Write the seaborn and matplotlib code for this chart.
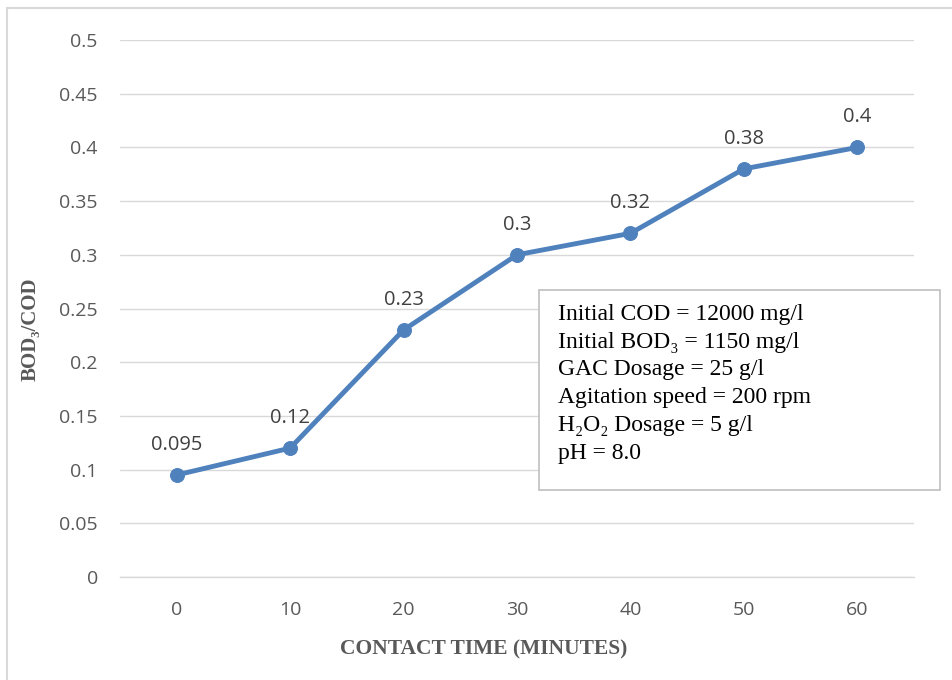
import matplotlib
matplotlib.use("Agg")
import matplotlib.pyplot as plt
import seaborn as sns
import pandas as pd
from matplotlib.patches import Rectangle

contact_time = [0, 10, 20, 30, 40, 50, 60]
bod_cod = [0.095, 0.12, 0.23, 0.3, 0.32, 0.38, 0.4]
value_labels = ["0.095", "0.12", "0.23", "0.3", "0.32", "0.38", "0.4"]
y_ticks = [0, 0.05, 0.1, 0.15, 0.2, 0.25, 0.3, 0.35, 0.4, 0.45, 0.5]
y_tick_labels = ["0", "0.05", "0.1", "0.15", "0.2", "0.25", "0.3", "0.35", "0.4", "0.45", "0.5"]
info_lines = ["Initial COD = 12000 mg/l",
              "Initial BOD\u2083 = 1150 mg/l",
              "GAC Dosage = 25 g/l",
              "Agitation speed = 200 rpm",
              "H\u2082O\u2082 Dosage = 5 g/l",
              "pH = 8.0"]

df = pd.DataFrame({"time": contact_time, "ratio": bod_cod})

sns.set_style("white")
plt.rcParams['font.family'] = ['Open Sans', 'DejaVu Sans']

fig = plt.figure(figsize=(9.53, 6.8), dpi=100)
ax = fig.add_axes([120 / 953, 1 - 577 / 680, 794 / 953, 537 / 680])

blue = "#4F81BD"
sns.lineplot(data=df, x="time", y="ratio", ax=ax, color=blue, linewidth=3.5,
             marker="o", markersize=10, markeredgecolor=blue, zorder=3)

for x, y, lab in zip(contact_time, bod_cod, value_labels):
    ax.annotate(lab, (x, y), xytext=(0, 18), textcoords="offset points",
                ha="center", va="baseline", fontsize=14.5, color="#404040")

ax.set_xlim(-5, 65)
ax.set_ylim(0, 0.5)
ax.set_xticks(contact_time)
ax.set_xticklabels([str(t) for t in contact_time])
ax.set_yticks(y_ticks)
ax.set_yticklabels(y_tick_labels)
ax.tick_params(axis="both", length=0, labelsize=14, labelcolor="#595959")
ax.tick_params(axis="y", pad=16)
ax.tick_params(axis="x", pad=17)
ax.yaxis.grid(True, color="#D9D9D9", linewidth=1)
ax.xaxis.grid(False)
for side in ["top", "right", "left"]:
    ax.spines[side].set_visible(False)
ax.spines["bottom"].set_color("#D9D9D9")
ax.spines["bottom"].set_linewidth(1)

serif = ['Liberation Serif', 'DejaVu Serif']
ax.set_xlabel("CONTACT TIME (MINUTES)", family=serif, fontweight="bold",
              fontsize=15.5, color="#595959")
ax.xaxis.set_label_coords(0.458, -0.117)
ax.set_ylabel("BOD\u2083/COD", family=serif, fontweight="bold",
              fontsize=15, color="#595959")
ax.yaxis.set_label_coords(-0.1, 0.462)

# info box
box = Rectangle((539 / 953, 1 - 490 / 680), 401 / 953, 200 / 680,
                transform=fig.transFigure, facecolor="white",
                edgecolor="#BFBFBF", linewidth=1.2, zorder=5)
fig.patches.append(box)
fig.text(558 / 953, 1 - 304 / 680, "\n".join(info_lines), family=serif,
         fontsize=17, color="black", va="top", ha="left",
         linespacing=1.42, zorder=6)

# outer chart border
fig.patches.append(Rectangle((7 / 953, -0.02), 1.05, 1 - 8 / 680 + 0.02,
                             transform=fig.transFigure, fill=False,
                             edgecolor="#D9D9D9", linewidth=1.5))

fig.savefig("out.png", dpi=100)
